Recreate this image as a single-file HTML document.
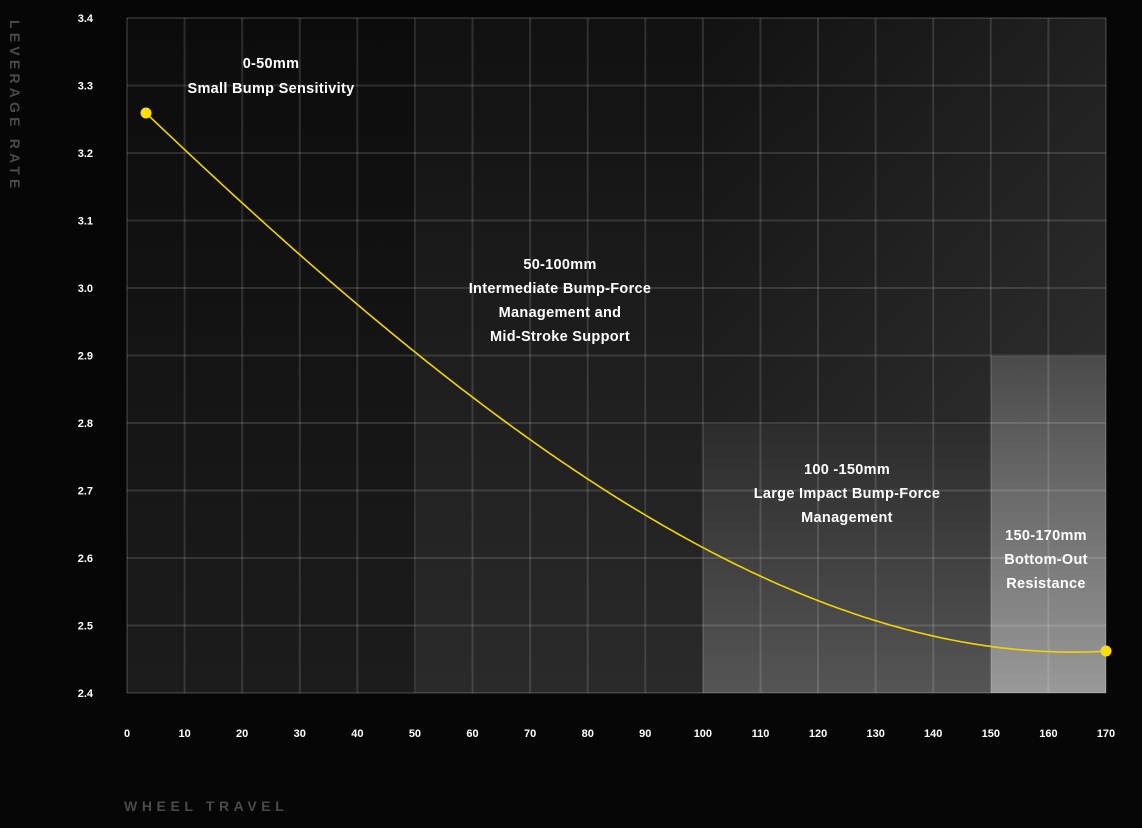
<!DOCTYPE html>
<html><head><style>
html,body{margin:0;padding:0;background:#050605;}
body{width:1142px;height:823px;overflow:hidden;font-family:"Liberation Sans",sans-serif;}
</style></head><body>
<svg width="1142" height="823" xmlns="http://www.w3.org/2000/svg">
<defs>
<linearGradient id="g1" x1="0" y1="0" x2="0" y2="1"><stop offset="0" stop-color="#0c0c0c"/><stop offset="1" stop-color="#1c1c1c"/></linearGradient>
<linearGradient id="g2" x1="0" y1="0" x2="0" y2="1"><stop offset="0" stop-color="#111"/><stop offset="1" stop-color="#2a2a2a"/></linearGradient>
<linearGradient id="gt" x1="0" y1="0" x2="1" y2="1"><stop offset="0" stop-color="#121212"/><stop offset="1" stop-color="#2e2e2e"/></linearGradient>
<linearGradient id="g3" x1="0" y1="0" x2="0" y2="1"><stop offset="0" stop-color="#2c2c2c"/><stop offset="1" stop-color="#555"/></linearGradient>
<linearGradient id="g4" x1="0" y1="0" x2="0" y2="1"><stop offset="0" stop-color="#4a4a4a"/><stop offset="1" stop-color="#999"/></linearGradient>
</defs>
<rect x="127" y="18" width="289" height="675" fill="url(#g1)"/>
<rect x="416" y="18" width="287" height="675" fill="url(#g2)"/>
<rect x="703" y="18" width="403" height="406" fill="url(#gt)"/>
<rect x="703" y="424" width="288" height="269" fill="url(#g3)"/>
<rect x="991" y="356" width="115" height="337" fill="url(#g4)"/>
<g id="grid" stroke="#ffffff" stroke-opacity="0.13" stroke-width="2" fill="none"></g>
<path id="curve" fill="none" stroke="#f2d500" stroke-width="1.6"/>
<circle cx="146" cy="113" r="5.5" fill="#ffdd00"/>
<circle cx="1106" cy="651" r="5.5" fill="#ffdd00"/>
<g fill="#fff" font-weight="bold" font-size="14.5" text-anchor="middle" letter-spacing="0.3">
<text x="271" y="68">0-50mm</text>
<text x="271" y="93">Small Bump Sensitivity</text>
<text x="560" y="269">50-100mm</text>
<text x="560" y="293">Intermediate Bump-Force</text>
<text x="560" y="317">Management and</text>
<text x="560" y="341">Mid-Stroke Support</text>
<text x="847" y="474">100 -150mm</text>
<text x="847" y="498">Large Impact Bump-Force</text>
<text x="847" y="522">Management</text>
<text x="1046" y="540">150-170mm</text>
<text x="1046" y="564">Bottom-Out</text>
<text x="1046" y="588">Resistance</text>
</g>
<g id="yl" fill="#fff" font-weight="bold" font-size="11" text-anchor="end"></g>
<g id="xl" fill="#fff" font-weight="bold" font-size="11" text-anchor="middle"></g>
<text x="124" y="811" fill="#4a4a4a" font-weight="bold" font-size="14" letter-spacing="4.6">WHEEL TRAVEL</text>
<text transform="translate(10,20) rotate(90)" fill="#4a4a4a" font-weight="bold" font-size="14" letter-spacing="4.2">LEVERAGE RATE</text>
</svg>
<script>
var ns="http://www.w3.org/2000/svg";
var grid=document.getElementById('grid'),yl=document.getElementById('yl'),xl=document.getElementById('xl');
function X(mm){return 127+mm*(979/170);}
for(var i=0;i<=17;i++){var l=document.createElementNS(ns,'line');var x=X(i*10);l.setAttribute('x1',x);l.setAttribute('x2',x);l.setAttribute('y1',18);l.setAttribute('y2',693);grid.appendChild(l);
var t=document.createElementNS(ns,'text');t.setAttribute('x',x);t.setAttribute('y',737);t.textContent=i*10;xl.appendChild(t);}
for(var j=0;j<=10;j++){var y=18+j*67.5;var l=document.createElementNS(ns,'line');l.setAttribute('x1',127);l.setAttribute('x2',1106);l.setAttribute('y1',y);l.setAttribute('y2',y);grid.appendChild(l);
var t=document.createElementNS(ns,'text');t.setAttribute('x',93);t.setAttribute('y',y+4);t.textContent=(3.4-j*0.1).toFixed(1);yl.appendChild(t);}
var p=[[146,113],[280,239],[416,353],[560,461],[703,545],[847,610],[991,650],[1048,654],[1106,651]];
// cubic least squares fit
function norm(x){return (x-626)/480;}
var n=4,A=[],b=[];for(var r=0;r<n;r++){A.push([0,0,0,0]);b.push(0);}
p.forEach(function(q){var t=norm(q[0]);var w=(q[0]==146||q[0]==1106)?20:1;for(var r=0;r<n;r++){for(var c=0;c<n;c++)A[r][c]+=w*Math.pow(t,r+c);b[r]+=w*Math.pow(t,r)*q[1];}});
for(var c=0;c<n;c++){for(var r=c+1;r<n;r++){var f=A[r][c]/A[c][c];for(var k=c;k<n;k++)A[r][k]-=f*A[c][k];b[r]-=f*b[c];}}
var co=[0,0,0,0];for(var r=n-1;r>=0;r--){var s=b[r];for(var k=r+1;k<n;k++)s-=A[r][k]*co[k];co[r]=s/A[r][r];}
var d="";for(var x=146;x<=1106;x+=4){var t=norm(x);var y=co[0]+co[1]*t+co[2]*t*t+co[3]*t*t*t;d+=(d?" L":"M")+x+","+y.toFixed(1);}
document.getElementById('curve').setAttribute('d',d);
</script>
</body></html>
